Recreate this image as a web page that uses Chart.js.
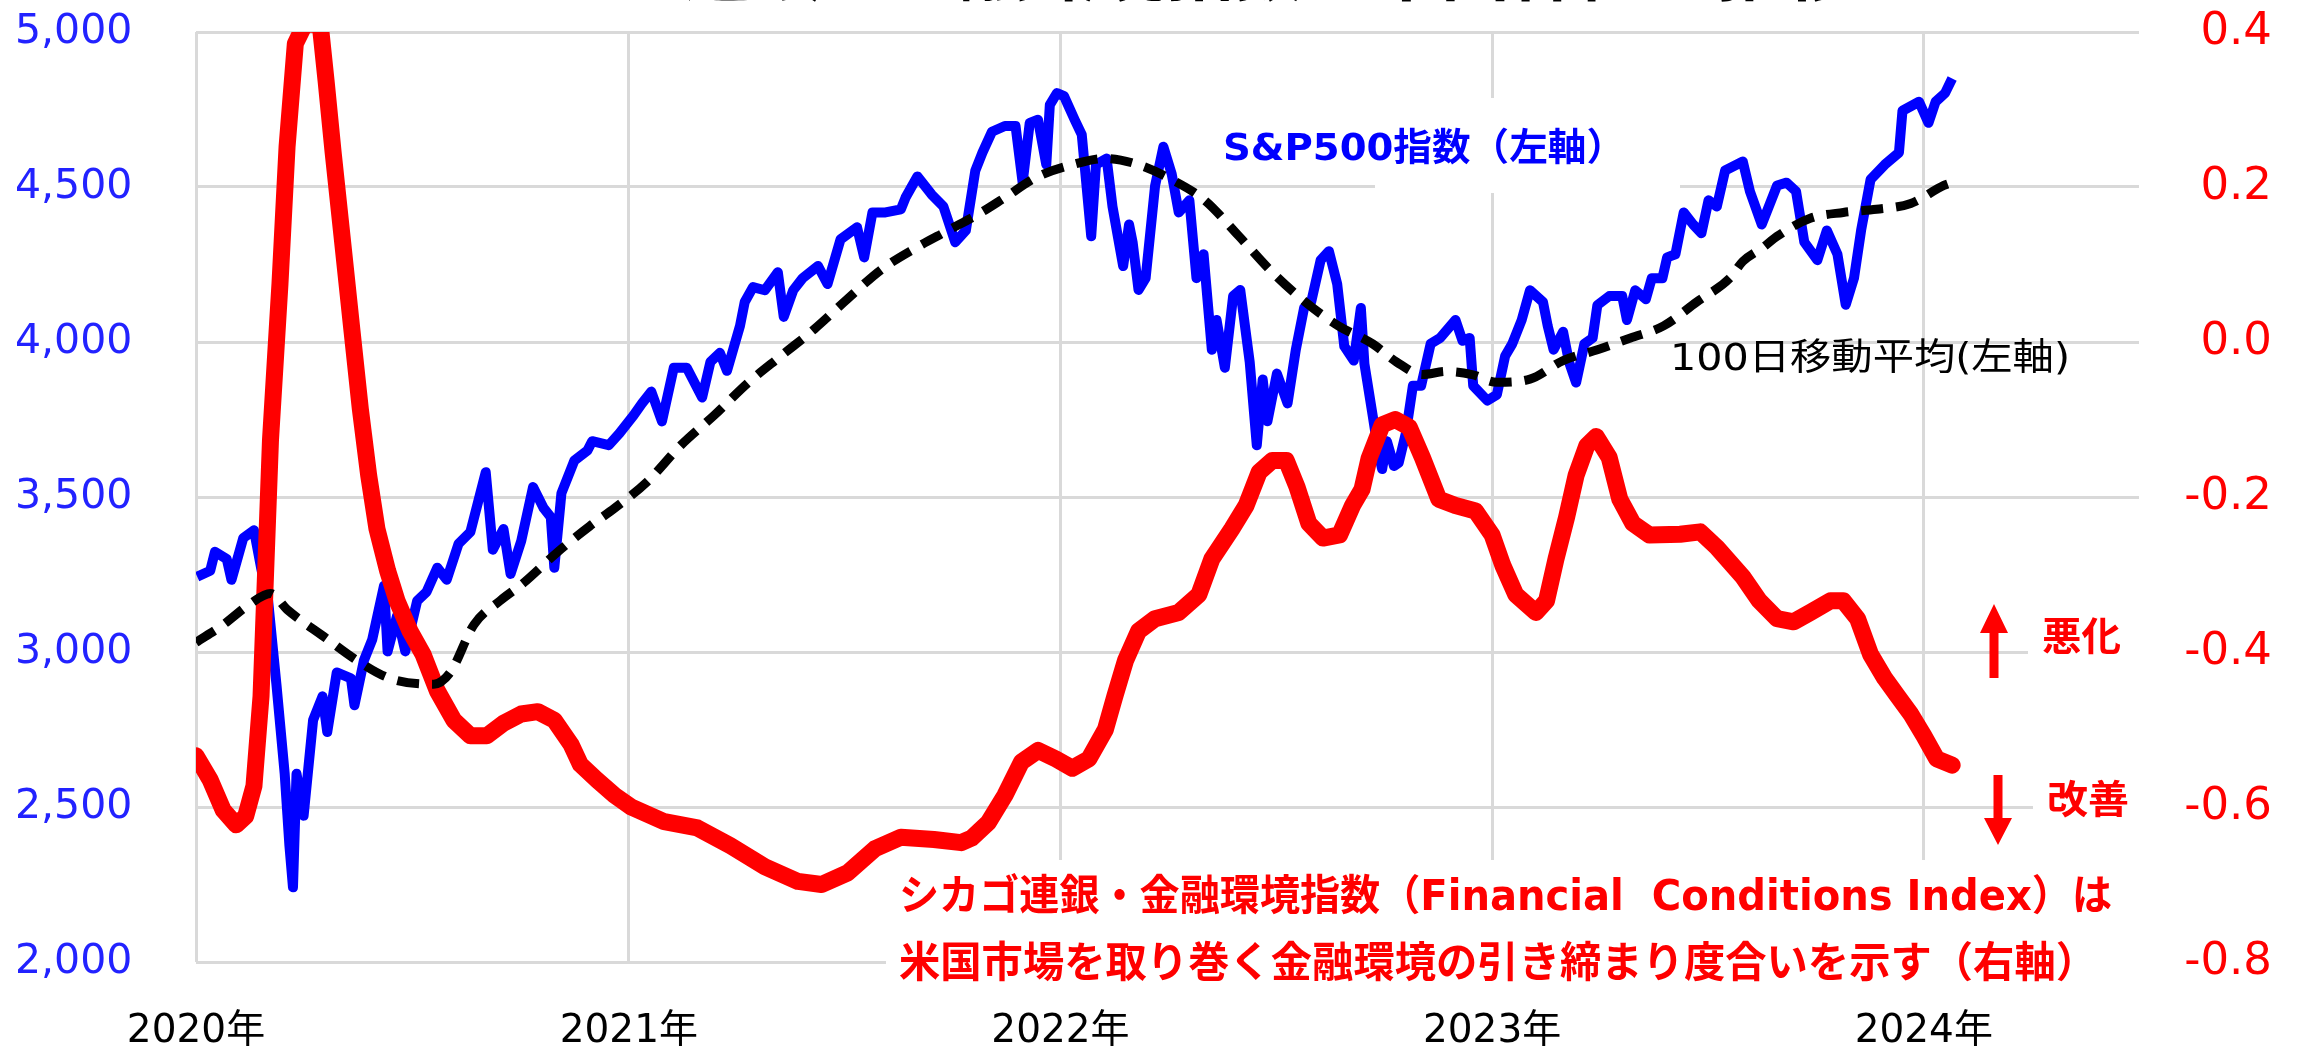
<!DOCTYPE html>
<html><head><meta charset="utf-8">
<script src="https://cdn.jsdelivr.net/npm/chart.js@4.4.1/dist/chart.umd.min.js"></script>
<style>html,body{margin:0;padding:0;background:#fff;overflow:hidden}canvas{display:block}</style>
</head><body>
<canvas id="c" width="2302" height="1057"></canvas>
<script>
// ---- DATA ----
const spDates = ['2020-01-02','2020-01-13','2020-01-17','2020-01-27','2020-01-31','2020-02-10','2020-02-19','2020-02-25','2020-03-02','2020-03-09','2020-03-16','2020-03-20','2020-03-23','2020-03-26','2020-04-01','2020-04-09','2020-04-17','2020-04-21','2020-04-29','2020-05-11','2020-05-14','2020-05-22','2020-05-29','2020-06-08','2020-06-11','2020-06-19','2020-06-26','2020-07-06','2020-07-14','2020-07-23','2020-07-31','2020-08-10','2020-08-20','2020-09-02','2020-09-08','2020-09-17','2020-09-23','2020-10-02','2020-10-12','2020-10-21','2020-10-27','2020-10-30','2020-11-05','2020-11-16','2020-11-27','2020-12-01','2020-12-15','2020-12-24','2021-01-05','2021-01-12','2021-01-20','2021-01-29','2021-02-08','2021-02-19','2021-03-04','2021-03-11','2021-03-19','2021-03-25','2021-04-05','2021-04-09','2021-04-16','2021-04-26','2021-05-07','2021-05-12','2021-05-20','2021-05-28','2021-06-10','2021-06-18','2021-06-29','2021-07-13','2021-07-19','2021-07-26','2021-08-06','2021-08-19','2021-08-23','2021-09-02','2021-09-14','2021-09-24','2021-10-04','2021-10-13','2021-10-21','2021-10-27','2021-11-04','2021-11-15','2021-11-24','2021-11-30','2021-12-06','2021-12-13','2021-12-20','2021-12-23','2021-12-29','2022-01-04','2022-01-13','2022-01-19','2022-01-27','2022-01-31','2022-02-09','2022-02-14','2022-02-23','2022-02-28','2022-03-03','2022-03-08','2022-03-14','2022-03-22','2022-03-29','2022-04-05','2022-04-11','2022-04-20','2022-04-26','2022-05-02','2022-05-09','2022-05-13','2022-05-20','2022-05-27','2022-06-02','2022-06-10','2022-06-16','2022-06-21','2022-06-25','2022-07-03','2022-07-12','2022-07-19','2022-07-26','2022-08-01','2022-08-09','2022-08-16','2022-08-23','2022-08-29','2022-09-06','2022-09-12','2022-09-15','2022-09-22','2022-09-27','2022-09-30','2022-10-04','2022-10-10','2022-10-14','2022-10-20','2022-10-26','2022-11-02','2022-11-10','2022-11-18','2022-12-01','2022-12-07','2022-12-13','2022-12-16','2022-12-28','2023-01-05','2023-01-12','2023-01-18','2023-01-26','2023-02-02','2023-02-13','2023-02-17','2023-02-22','2023-03-02','2023-03-07','2023-03-13','2023-03-20','2023-03-27','2023-03-31','2023-04-10','2023-04-21','2023-04-25','2023-05-02','2023-05-11','2023-05-16','2023-05-25','2023-05-29','2023-06-05','2023-06-12','2023-06-20','2023-06-27','2023-07-03','2023-07-10','2023-07-17','2023-08-01','2023-08-07','2023-08-17','2023-08-30','2023-09-07','2023-09-15','2023-09-22','2023-10-03','2023-10-11','2023-10-20','2023-10-27','2023-11-03','2023-11-09','2023-11-17','2023-11-29','2023-12-11','2023-12-14','2023-12-28','2024-01-05','2024-01-11','2024-01-19','2024-01-25'];
const spValues = [3243,3262,3323,3300,3233,3368,3393,3272,3165,2896,2607,2375,2241,2607,2472,2780,2857,2742,2934,2915,2828,2973,3040,3214,3002,3117,3002,3165,3194,3272,3233,3349,3387,3580,3330,3397,3252,3358,3532,3464,3435,3272,3512,3618,3650,3680,3667,3705,3763,3801,3840,3744,3917,3917,3821,3936,3965,3907,4052,4129,4177,4167,4225,4081,4167,4206,4245,4187,4331,4370,4273,4418,4418,4428,4466,4534,4476,4437,4322,4360,4553,4611,4678,4697,4697,4514,4707,4717,4572,4765,4803,4793,4717,4669,4341,4572,4592,4437,4245,4379,4322,4168,4206,4504,4630,4543,4418,4457,4206,4283,3975,4071,3917,4148,4168,3936,3667,3879,3744,3898,3802,3975,4110,4129,4264,4293,4187,3986,3940,4110,3930,3763,3640,3590,3680,3600,3610,3705,3859,3859,3994,4013,4071,4004,4013,3859,3811,3830,3955,3994,4071,4167,4129,4052,3975,4033,3936,3869,3994,4013,4119,4148,4148,4071,4167,4138,4206,4206,4273,4283,4418,4379,4351,4457,4437,4553,4582,4486,4379,4505,4514,4486,4322,4264,4360,4283,4120,4206,4360,4524,4572,4611,4746,4775,4707,4775,4803,4850];

const maDates = ['2020-01-01','2020-01-24','2020-02-16','2020-03-04','2020-03-18','2020-04-18','2020-05-16','2020-06-13','2020-07-20','2020-08-03','2020-08-23','2020-09-14','2020-10-04','2020-11-01','2020-11-29','2020-12-20','2021-01-17','2021-02-14','2021-03-14','2021-04-12','2021-05-10','2021-06-07','2021-07-05','2021-08-03','2021-08-31','2021-09-28','2021-10-26','2021-11-15','2021-12-13','2022-01-11','2022-02-08','2022-03-08','2022-04-05','2022-05-03','2022-06-01','2022-06-29','2022-07-27','2022-08-24','2022-09-22','2022-10-12','2022-11-03','2022-11-23','2022-12-15','2023-01-05','2023-02-02','2023-03-02','2023-03-31','2023-04-28','2023-05-26','2023-06-23','2023-07-21','2023-08-01','2023-08-18','2023-08-30','2023-09-27','2023-10-25','2023-11-22','2023-12-21','2024-01-18','2024-01-25'];
const maValues = [3031,3088,3156,3189,3137,3050,2973,2915,2896,2934,3088,3165,3223,3320,3406,3464,3551,3667,3763,3869,3956,4042,4139,4235,4302,4360,4418,4466,4534,4572,4592,4572,4524,4457,4341,4225,4129,4052,3994,3936,3895,3905,3895,3870,3880,3940,3975,4013,4052,4129,4206,4260,4305,4341,4399,4418,4428,4447,4505,4515];

const fciDates = ['2020-01-01','2020-01-13','2020-01-24','2020-02-04','2020-02-12','2020-02-19','2020-02-25','2020-03-04','2020-03-12','2020-03-18','2020-03-25','2020-04-02','2020-04-15','2020-04-20','2020-04-26','2020-05-04','2020-05-12','2020-05-19','2020-05-26','2020-06-02','2020-06-11','2020-06-19','2020-06-30','2020-07-11','2020-07-23','2020-08-06','2020-08-20','2020-09-03','2020-09-17','2020-10-02','2020-10-16','2020-10-30','2020-11-13','2020-11-21','2020-12-05','2020-12-20','2021-01-03','2021-01-31','2021-02-28','2021-03-28','2021-04-26','2021-05-24','2021-06-13','2021-07-05','2021-07-28','2021-08-19','2021-09-16','2021-10-09','2021-10-18','2021-11-01','2021-11-15','2021-11-29','2021-12-13','2021-12-28','2022-01-11','2022-01-25','2022-02-08','2022-02-16','2022-02-25','2022-03-08','2022-03-22','2022-04-11','2022-04-28','2022-05-09','2022-05-26','2022-06-07','2022-06-18','2022-06-29','2022-07-11','2022-07-20','2022-07-30','2022-08-11','2022-08-25','2022-09-05','2022-09-13','2022-09-19','2022-09-30','2022-10-11','2022-10-23','2022-11-03','2022-11-17','2022-12-01','2022-12-18','2023-01-01','2023-01-10','2023-01-21','2023-02-07','2023-02-16','2023-02-24','2023-03-05','2023-03-13','2023-03-22','2023-03-30','2023-04-10','2023-04-19','2023-04-30','2023-05-14','2023-06-09','2023-06-26','2023-07-10','2023-07-21','2023-08-01','2023-08-15','2023-08-30','2023-09-13','2023-09-27','2023-10-14','2023-10-25','2023-11-06','2023-11-17','2023-11-29','2023-12-10','2023-12-21','2024-01-01','2024-01-12','2024-01-25'];
const fciValues = [-0.534,-0.565,-0.604,-0.623,-0.612,-0.573,-0.457,-0.126,0.075,0.252,0.385,0.41,0.41,0.337,0.244,0.129,0.013,-0.087,-0.172,-0.241,-0.295,-0.334,-0.373,-0.403,-0.450,-0.488,-0.508,-0.508,-0.492,-0.480,-0.477,-0.488,-0.519,-0.545,-0.565,-0.585,-0.600,-0.619,-0.627,-0.650,-0.677,-0.696,-0.700,-0.685,-0.654,-0.639,-0.642,-0.646,-0.640,-0.620,-0.585,-0.542,-0.527,-0.538,-0.550,-0.538,-0.500,-0.457,-0.411,-0.373,-0.357,-0.349,-0.326,-0.280,-0.241,-0.211,-0.168,-0.153,-0.153,-0.187,-0.234,-0.253,-0.249,-0.211,-0.190,-0.150,-0.107,-0.100,-0.110,-0.149,-0.203,-0.211,-0.218,-0.249,-0.288,-0.326,-0.349,-0.334,-0.280,-0.226,-0.172,-0.134,-0.122,-0.149,-0.203,-0.234,-0.249,-0.248,-0.245,-0.265,-0.284,-0.303,-0.334,-0.357,-0.361,-0.349,-0.334,-0.334,-0.357,-0.403,-0.434,-0.457,-0.480,-0.508,-0.538,-0.546];

const yearTicks = ['2020-01-01','2021-01-01','2022-01-01','2023-01-01','2024-01-01'];
const yearLabels = ['2020年','2021年','2022年','2023年','2024年'];
const leftTicks = [2000,2500,3000,3500,4000,4500,5000];
const rightTicks = [-0.8,-0.6,-0.4,-0.2,0.0,0.2,0.4];
const axisStart = '2020-01-01', axisEnd = '2024-07-01';

const titleText = 'シカゴ連銀・金融環境指数と米国株価の推移';
const spLabel = 'S&P500指数（左軸）';
const maLabel = '100日移動平均(左軸)';
const fciNote1 = 'シカゴ連銀・金融環境指数（Financial  Conditions Index）は';
const fciNote2 = '米国市場を取り巻く金融環境の引き締まり度合いを示す（右軸）';
const worseLabel = '悪化', betterLabel = '改善';

// ---- helpers ----
const FONT = "'DejaVu Sans','Noto Sans CJK JP',sans-serif";
function dayNum(s){ return (Date.parse(s+'T00:00:00Z') - Date.parse(axisStart+'T00:00:00Z'))/86400000; }
const toXY = (ds, vs) => ds.map((d,i)=>({x: dayNum(d), y: vs[i]}));

function fitText(ctx, text, x, y, w, font, color){
  ctx.save();
  ctx.font = font;
  const m = ctx.measureText(text).width;
  ctx.translate(x, y);
  ctx.scale(w/m, 1);
  ctx.fillStyle = color;
  ctx.textAlign = 'left';
  ctx.textBaseline = 'middle';
  ctx.fillText(text, 0, 0);
  ctx.restore();
}
function arrow(ctx, cx, tipY, headEndY, tailY, headHalf, shaftHalf, color){
  ctx.save();
  ctx.fillStyle = color;
  ctx.beginPath();
  ctx.moveTo(cx, tipY);
  ctx.lineTo(cx + headHalf, headEndY);
  ctx.lineTo(cx + shaftHalf, headEndY);
  ctx.lineTo(cx + shaftHalf, tailY);
  ctx.lineTo(cx - shaftHalf, tailY);
  ctx.lineTo(cx - shaftHalf, headEndY);
  ctx.lineTo(cx - headHalf, headEndY);
  ctx.closePath();
  ctx.fill();
  ctx.restore();
}

const boxesPlugin = {
  id: 'boxes',
  beforeDatasetsDraw(chart){
    const ctx = chart.ctx;
    ctx.save();
    ctx.fillStyle = '#ffffff';
    ctx.fillRect(1375, 98, 305, 95);    // S&P label box
    ctx.fillRect(886, 860, 1254, 130);  // note box
    ctx.fillRect(2028, 615, 112, 60);   // 悪化 box
    ctx.fillRect(2033, 780, 107, 50);   // 改善 box
    ctx.restore();
  }
};
const notesPlugin = {
  id: 'notes',
  afterDatasetsDraw(chart){
    const ctx = chart.ctx;
    ctx.save();
    ctx.font = 'bold 66px ' + FONT;
    const tw = ctx.measureText(titleText).width;
    ctx.translate(477, -5);
    ctx.scale(1377/tw, 1);
    ctx.fillStyle = '#000';
    ctx.textBaseline = 'alphabetic';
    ctx.fillText(titleText, 0, 0);
    ctx.restore();

    fitText(ctx, spLabel, 1223, 150, 402, 'bold 38px ' + FONT, '#0000FF');
    fitText(ctx, maLabel, 1670, 360, 400, '37px ' + FONT, '#000000');
    fitText(ctx, fciNote1, 899, 899, 1213, 'bold 42px ' + FONT, '#FF0000');
    fitText(ctx, fciNote2, 899, 966, 1198, 'bold 42px ' + FONT, '#FF0000');
    fitText(ctx, worseLabel, 2042, 640, 79, 'bold 39px ' + FONT, '#FF0000');
    fitText(ctx, betterLabel, 2047, 803, 82, 'bold 39px ' + FONT, '#FF0000');
    arrow(ctx, 1994, 604, 633, 678, 14, 4.5, '#FF0000');
    arrow(ctx, 1998, 845, 818, 775, 14, 4.5, '#FF0000');
  }
};

Chart.defaults.font.family = FONT;

new Chart(document.getElementById('c'), {
  type: 'line',
  data: {
    datasets: [
      { label: maLabel, data: toXY(maDates, maValues), yAxisID: 'y', borderColor: '#000000', borderWidth: 9,
        borderDash: [22, 13], pointRadius: 0, cubicInterpolationMode: 'monotone', order: 0 },
      { label: 'FCI', data: toXY(fciDates, fciValues), yAxisID: 'y1', borderColor: '#FF0000', borderWidth: 17,
        pointRadius: 0, borderJoinStyle: 'round', borderCapStyle: 'round', order: 1, clip: 0 },
      { label: spLabel, data: toXY(spDates, spValues), yAxisID: 'y', borderColor: '#0000FF', borderWidth: 10,
        pointRadius: 0, borderJoinStyle: 'round', order: 2 }
    ]
  },
  options: {
    responsive: false, animation: false, devicePixelRatio: 1,
    layout: { padding: { left: 15, right: 30, top: 32, bottom: 0 } },
    plugins: { legend: { display: false }, tooltip: { enabled: false } },
    scales: {
      x: {
        type: 'linear', min: 0, max: dayNum(axisEnd),
        afterBuildTicks: s => { s.ticks = yearTicks.map(d => ({ value: dayNum(d) })); },
        ticks: { callback: (v, i) => yearLabels[i], color: '#000', font: { size: 39 }, padding: 46, maxRotation: 0, autoSkip: false },
        grid: { color: '#D9D9D9', lineWidth: 3, drawTicks: false },
        border: { display: false },
        afterFit: s => { s.height = 95; }
      },
      y: {
        position: 'left', min: 2000, max: 5000,
        afterBuildTicks: s => { s.ticks = leftTicks.map(v => ({ value: v })); },
        ticks: { callback: v => v.toLocaleString('en-US'), color: '#2222FF', font: { size: 41 }, crossAlign: 'far', padding: 0 },
        grid: { color: '#D9D9D9', lineWidth: 3, drawTicks: false },
        border: { display: false },
        afterFit: s => { s.width = 181; }
      },
      y1: {
        position: 'right', min: -0.8, max: 0.4,
        afterBuildTicks: s => { s.ticks = rightTicks.map(v => ({ value: v })); },
        ticks: { callback: v => v.toFixed(1), color: '#FF0000', font: { size: 45 }, crossAlign: 'far', padding: 0 },
        grid: { display: false },
        border: { display: false },
        afterFit: s => { s.width = 133; }
      }
    }
  },
  plugins: [boxesPlugin, notesPlugin]
});
</script>
</body></html>
